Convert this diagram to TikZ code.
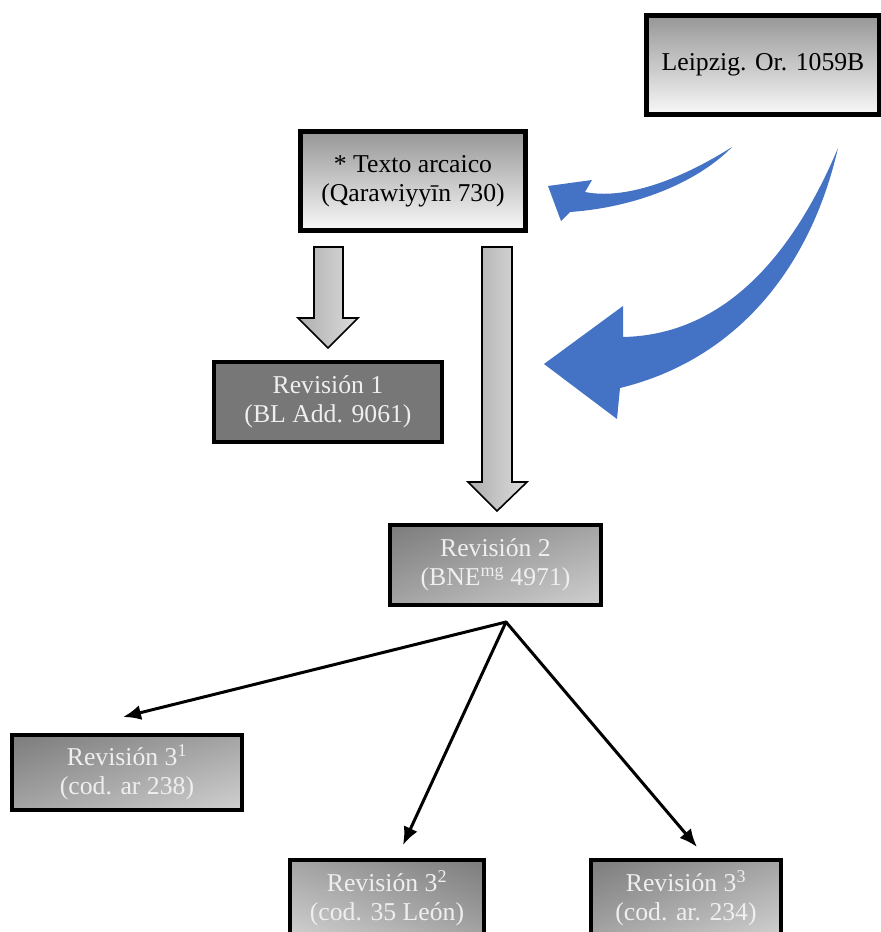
\documentclass[tikz,border=0pt]{standalone}
\usepackage{fontspec}
\setmainfont{Liberation Serif}
\usetikzlibrary{arrows.meta,shadings}

\definecolor{topgray}{HTML}{979797}
\definecolor{topwhite}{HTML}{F8F8F8}
\definecolor{revgray}{HTML}{777777}
\definecolor{boxdark}{HTML}{7C7C7C}
\definecolor{boxmid}{HTML}{A4A4A4}
\definecolor{boxlight}{HTML}{D0D0D0}
\definecolor{textwhite}{HTML}{EFEFEF}
\definecolor{shaftdark}{HTML}{AEAEAE}
\definecolor{shaftlight}{HTML}{DCDCDC}
\definecolor{arrowblue}{HTML}{4472C4}

\begin{document}
\begin{tikzpicture}[x=1pt, y=-1pt,
    box/.style={draw=black, line width=4.5pt, align=center, inner sep=0pt,
        font=\fontsize{25.7}{29}\selectfont},
    lightbox/.style={box, top color=topgray, bottom color=topwhite},
    darkbox/.style={box, line width=3.5pt, text=textwhite},
    diagbox/.style={darkbox, upper left=boxdark, upper right=boxmid,
        lower left=boxmid, lower right=boxlight},
    flipbox/.style={darkbox, upper right=boxdark, upper left=boxmid,
        lower right=boxmid, lower left=boxlight},
    blockarrow/.style={draw=black, line width=1.6pt, left color=shaftdark, right color=shaftlight},
    curvearrow/.style={fill=arrowblue},
    fork/.style={line width=3pt, line cap=round, -{Latex[length=18pt,width=15pt]}}]

    \useasboundingbox (0,0) rectangle (881,932);
    \clip (0,0) rectangle (881,932);

    % Sources
    \node[lightbox, minimum width=233pt, minimum height=99pt] (leipzig) at (763,65) {Leipzig. Or. 1059B};
    \node[lightbox, minimum width=225pt, minimum height=99pt] (arcaico) at (413,181) {* Texto arcaico\\(Qarawiyyīn 730)};

    % Revisions
    \node[darkbox, fill=revgray, minimum width=228pt, minimum height=80pt] (rev1) at (328,402) {Revisión 1\\(BL Add. 9061)};
    \node[diagbox, minimum width=211pt, minimum height=80pt] (rev2) at (495.5,565) {Revisión 2\\(BNE\textsuperscript{mg} 4971)};
    \node[diagbox, line width=4pt, minimum width=230pt, minimum height=75pt] (rev31) at (127,772.5) {Revisión 3\textsuperscript{1}\\(cod. ar 238)};
    \node[flipbox, line width=4pt, minimum width=194pt, minimum height=76pt] (rev32) at (387,898) {Revisión 3\textsuperscript{2}\\(cod. 35 León)};
    \node[diagbox, line width=4pt, minimum width=190pt, minimum height=76pt] (rev33) at (686,898) {Revisión 3\textsuperscript{3}\\(cod. ar. 234)};

    % Block arrows
    \draw[blockarrow] (314,247) -- (343,247) -- (343,318) -- (358,318) -- (328,348) -- (298,318) -- (314,318) -- cycle;
    \draw[blockarrow] (482,247) -- (512,247) -- (512,482) -- (527,482) -- (497,511) -- (468,482) -- (482,482) -- cycle;

    % Curved arrows from Leipzig
    \fill[curvearrow] (732,147) .. controls (680,180) and (625,200) .. (585,192)
        -- (592,180) -- (548,186) -- (561,221) -- (570,212)
        .. controls (640,207) and (700,180) .. (732,147) -- cycle;
    \fill[curvearrow] (838,148) .. controls (790,262) and (720,335) .. (623,337)
        -- (623,306) -- (544,364) -- (617,419) -- (620,388)
        .. controls (735,360) and (810,270) .. (838,148) -- cycle;

    % Branches
    \coordinate (fork) at (506,622);
    \draw[fork] (fork) -- ([xshift=-4pt,yshift=16pt]rev31.north);
    \draw[fork] (fork) -- ([xshift=16pt,yshift=13pt]rev32.north);
    \draw[fork] (fork) -- ([xshift=11pt,yshift=11pt]rev33.north);
\end{tikzpicture}
\end{document}
